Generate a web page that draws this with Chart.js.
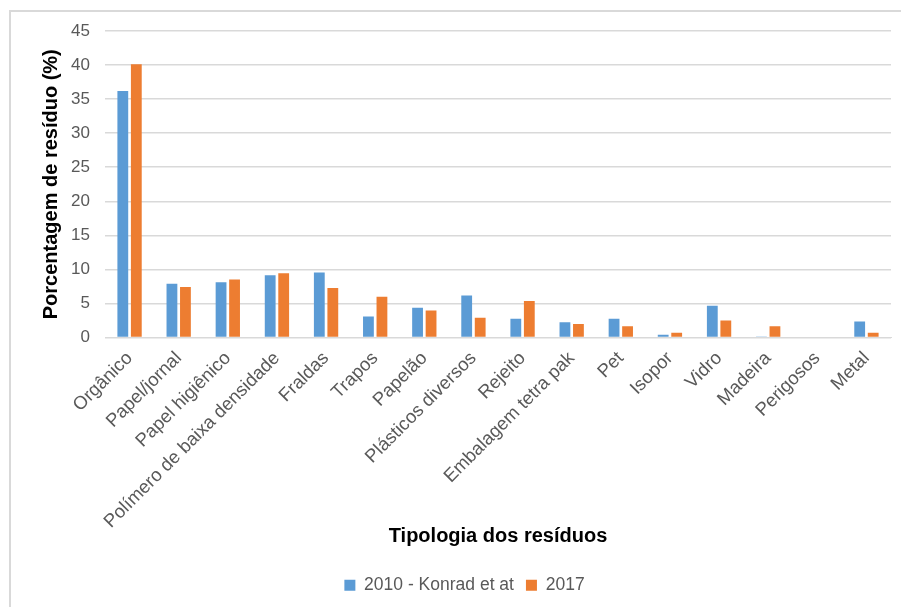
<!DOCTYPE html>
<html>
<head>
<meta charset="utf-8">
<script src="https://cdn.jsdelivr.net/npm/chart.js@4.4.1/dist/chart.umd.min.js"></script>
<style>
  html, body { margin: 0; padding: 0; background: #fff; }
  #wrap { position: relative; width: 901px; height: 607px; overflow: hidden; }
  #frame { position: absolute; left: 9px; top: 10px; width: 1000px; height: 1000px;
           border-left: 2px solid #d9d9d9; border-top: 2px solid #d9d9d9; }
  canvas { position: absolute; left: 0; top: 0; }
</style>
</head>
<body>
<div id="wrap">
  <div id="frame"></div>
  <canvas id="c" width="901" height="607"></canvas>
</div>
<script>
// Waste categories and their share (%) in each survey
const categories = [
  'Orgânico', 'Papel/jornal', 'Papel higiênico', 'Polímero de baixa densidade',
  'Fraldas', 'Trapos', 'Papelão', 'Plásticos diversos', 'Rejeito',
  'Embalagem tetra pak', 'Pet', 'Isopor', 'Vidro', 'Madeira', 'Perigosos', 'Metal'
];
const series2010 = [36.2, 7.9, 8.1, 9.15, 9.55, 3.1, 4.35, 6.15, 2.75, 2.25, 2.75, 0.4, 4.65, 0.15, 0, 2.35];
const series2017 = [40.1, 7.4, 8.5, 9.45, 7.25, 6.0, 3.95, 2.9, 5.35, 2.0, 1.65, 0.7, 2.5, 1.65, 0, 0.7];
const seriesNames = ['2010 - Konrad et at', '2017'];
const yTicks = [0, 5, 10, 15, 20, 25, 30, 35, 40, 45];

const FONT = '"Liberation Sans", Arial, sans-serif';
const GREY = '#595959';

// Nudge the legend sideways to its place under the plot
const legendShift = {
  id: 'legendShift',
  afterLayout(chart) {
    const lg = chart.legend;
    if (lg) { lg.left += 4; lg.right += 4; }
  }
};

new Chart(document.getElementById('c'), {
  type: 'bar',
  data: {
    labels: categories,
    datasets: [
      { label: seriesNames[0], data: series2010, backgroundColor: '#5B9BD5',
        categoryPercentage: 0.55, barPercentage: 0.8 },
      { label: seriesNames[1], data: series2017, backgroundColor: '#ED7D31',
        categoryPercentage: 0.55, barPercentage: 0.8 }
    ]
  },
  options: {
    responsive: false,
    animation: false,
    layout: { padding: { left: 30, right: 10, top: 31, bottom: 3 } },
    plugins: {
      legend: {
        position: 'bottom',
        labels: { color: GREY, font: { family: FONT, size: 17.5 }, boxWidth: 11, boxHeight: 11, padding: 12 }
      },
      tooltip: { enabled: false }
    },
    scales: {
      x: {
        afterFit(scale) { scale.height = 227; },
        grid: { display: false },
        border: { color: '#d9d9d9', width: 1 },
        ticks: { color: GREY, font: { family: FONT, size: 18.5 }, minRotation: 45, maxRotation: 45, autoSkip: false, padding: 2 },
        title: { display: true, text: 'Tipologia dos resíduos', color: '#000',
                 font: { family: FONT, size: 20, weight: 'bold' }, padding: { top: 4, bottom: 16 } }
      },
      y: {
        min: 0, max: 45,
        afterBuildTicks(scale) { scale.ticks = yTicks.map(v => ({ value: v })); },
        afterFit(scale) { scale.width = 75; },
        grid: { color: '#d9d9d9', lineWidth: 1.5, drawTicks: false },
        border: { display: false },
        ticks: { color: GREY, font: { family: FONT, size: 17 }, padding: 15 },
        title: { display: true, text: 'Porcentagem de resíduo (%)', color: '#000',
                 font: { family: FONT, size: 20, weight: 'bold' }, padding: { top: 9, bottom: 0 } }
      }
    }
  },
  plugins: [legendShift]
});
</script>
</body>
</html>
